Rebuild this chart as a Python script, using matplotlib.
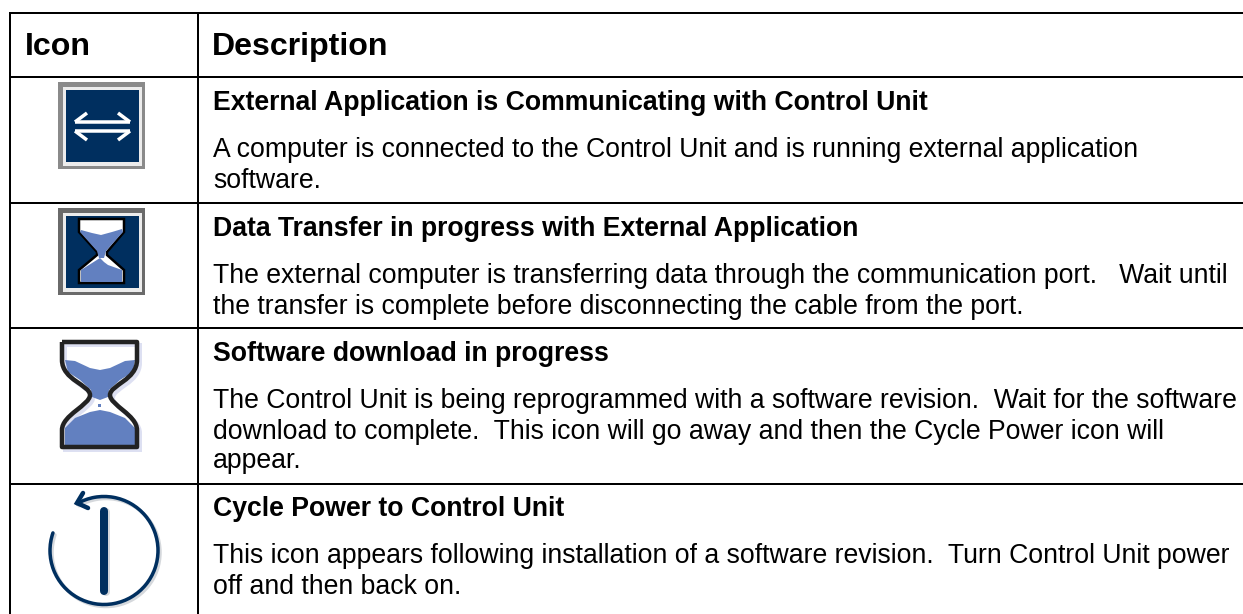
import matplotlib
matplotlib.use("Agg")
import matplotlib.pyplot as plt
from matplotlib.patches import Rectangle, Polygon, Arc, PathPatch
from matplotlib.path import Path
import numpy as np

plt.rcParams["font.family"] = ["Liberation Sans", "DejaVu Sans"]

W, H = 1243, 614
NAVY = "#002f5f"
BLUE = "#6280c0"
PX = 72 / 100

headers = ["Icon", "Description"]
titles = [
    "External Application is Communicating with Control Unit",
    "Data Transfer in progress with External Application",
    "Software download in progress",
    "Cycle Power to Control Unit",
]
bodies = [
    ["A computer is connected to the Control Unit and is running external application",
     "software."],
    ["The external computer is transferring data through the communication port.   Wait until",
     "the transfer is complete before disconnecting the cable from the port."],
    ["The Control Unit is being reprogrammed with a software revision.  Wait for the software",
     "download to complete.  This icon will go away and then the Cycle Power icon will",
     "appear."],
    ["This icon appears following installation of a software revision.  Turn Control Unit power",
     "off and then back on."],
]
title_y = [110, 236, 361, 516]
body_y = [[157, 188], [283, 314], [408, 439, 468], [563, 594]]
row_lines = [13, 77, 203, 328, 483.5]


def px(points):
    return np.array(points, dtype=float)


def framed_square(ax, x0, y0, size, edge):
    ax.add_patch(Rectangle((x0, y0), size, size, fc=edge, ec="none"))
    ax.add_patch(Rectangle((x0 + 5, y0 + 5), size - 8, size - 8, fc="#ececec", ec="none"))
    ax.add_patch(Rectangle((x0 + 8, y0 + 8), size - 14, size - 15, fc=NAVY, ec="none"))


def arrows_icon(ax):
    framed_square(ax, 58, 82, 87, "#8a8a8a")
    lw = 3.5 * PX
    ax.plot([75, 130], [122, 122], color="white", lw=lw, solid_capstyle="butt")
    ax.plot([75, 130], [131, 131], color="white", lw=lw, solid_capstyle="butt")
    ax.plot([87, 75], [113, 122], color="white", lw=lw, solid_capstyle="butt")
    ax.plot([75, 87], [131, 140], color="white", lw=lw, solid_capstyle="butt")
    ax.plot([118, 130], [113, 122], color="white", lw=lw, solid_capstyle="butt")
    ax.plot([130, 118], [131, 140], color="white", lw=lw, solid_capstyle="butt")


def small_hourglass(ax):
    framed_square(ax, 58, 208, 87, "#6a6a6a")
    outline = px([(79, 219), (124, 219), (124, 232), (107, 252), (107, 255), (124, 270),
                  (124, 283), (79, 283), (79, 270), (97, 255), (97, 252), (79, 232)])
    ax.add_patch(Polygon(outline, closed=True, fc="white", ec="black", lw=2.5 * PX))
    sand_top = px([(81, 230), (92, 233), (101, 235), (112, 232), (122, 229), (123, 232),
                   (106, 251), (104, 258), (99, 258), (97, 251), (80, 232)])
    ax.add_patch(Polygon(sand_top, closed=True, fc=BLUE, ec="none"))
    sand_bottom = px([(81, 270), (100, 258), (104, 262), (108, 265), (122, 270),
                      (122, 282), (81, 282)])
    ax.add_patch(Polygon(sand_bottom, closed=True, fc=BLUE, ec="none"))


def large_hourglass(ax):
    M, C = Path.MOVETO, Path.CURVE4
    L = Path.LINETO
    verts = [(62, 342), (137, 342), (137, 360), (137, 380), (110, 385), (110, 395),
             (110, 405), (137, 415), (137, 430), (137, 447), (62, 447), (62, 430),
             (62, 415), (90, 405), (90, 395), (90, 385), (62, 380), (62, 360), (62, 342)]
    codes = [M, L, L, C, C, C, C, C, C, L, L, L, C, C, C, C, C, C, L]
    # soft shadow first, then sand, then outline on top
    shadow = Path(px(verts) + 3, codes)
    ax.add_patch(PathPatch(shadow, fc="none", ec="#dde0f2", lw=4 * PX))
    top = px([(65, 360), (75, 361), (90, 368), (100, 370), (110, 368), (125, 361), (135, 360),
              (133, 372), (120, 380), (109, 390), (108, 397), (100, 400), (92, 397), (91, 390),
              (80, 380), (68, 372)])
    ax.add_patch(Polygon(top, closed=True, fc=BLUE, ec="none"))
    bottom = px([(65, 428), (75, 418), (90, 412), (100, 410), (110, 412), (125, 418), (135, 428),
                 (135, 445), (65, 445)])
    ax.add_patch(Polygon(bottom, closed=True, fc=BLUE, ec="none"))
    ax.add_patch(Rectangle((98.5, 404), 3, 3, fc=BLUE, ec="none"))
    ax.add_patch(PathPatch(Path(verts, codes), fc="none", ec="#222222", lw=4.5 * PX,
                           joinstyle="round"))


def power_icon(ax):
    # arc angles flip with the inverted y axis, so these run clockwise on screen
    for off, col in [(2, "#d5d8dc"), (0, NAVY)]:
        ax.add_patch(Arc((104 + off, 550.5 + off), 108, 108, theta1=-120, theta2=199,
                         ec=col, lw=3.5 * PX, capstyle="round"))
    ax.plot([106, 106], [512, 592], color="#d5d8dc", lw=8 * PX, solid_capstyle="round", zorder=2)
    ax.plot([104, 104], [511, 591], color=NAVY, lw=8 * PX, solid_capstyle="round", zorder=3)
    ax.plot([83, 77, 88], [493, 503, 508], color=NAVY, lw=4.5 * PX, solid_joinstyle="miter",
            solid_capstyle="round")


fig = plt.figure(figsize=(W / 100, H / 100), dpi=100, facecolor="white")
ax = fig.add_axes([0, 0, 1, 1])
ax.set_xlim(0, W)
ax.set_ylim(H, 0)
ax.axis("off")

for y in row_lines:
    ax.plot([10, W], [y, y], color="black", lw=2 * PX, solid_capstyle="butt")
ax.plot([10, 10], [12, H], color="black", lw=2 * PX, solid_capstyle="butt")
ax.plot([198, 198], [12, H], color="black", lw=2 * PX, solid_capstyle="butt")

ax.text(25, 55, headers[0], fontsize=23.15, fontweight="bold", va="baseline")
ax.text(212, 55, headers[1], fontsize=23.15, fontweight="bold", va="baseline")

for title, ty, lines, ys in zip(titles, title_y, bodies, body_y):
    ax.text(213, ty, title, fontsize=19.16, fontweight="bold", va="baseline")
    for line, y in zip(lines, ys):
        ax.text(213, y, line, fontsize=19.15, va="baseline")

arrows_icon(ax)
small_hourglass(ax)
large_hourglass(ax)
power_icon(ax)

fig.savefig("out.png", dpi=100)
